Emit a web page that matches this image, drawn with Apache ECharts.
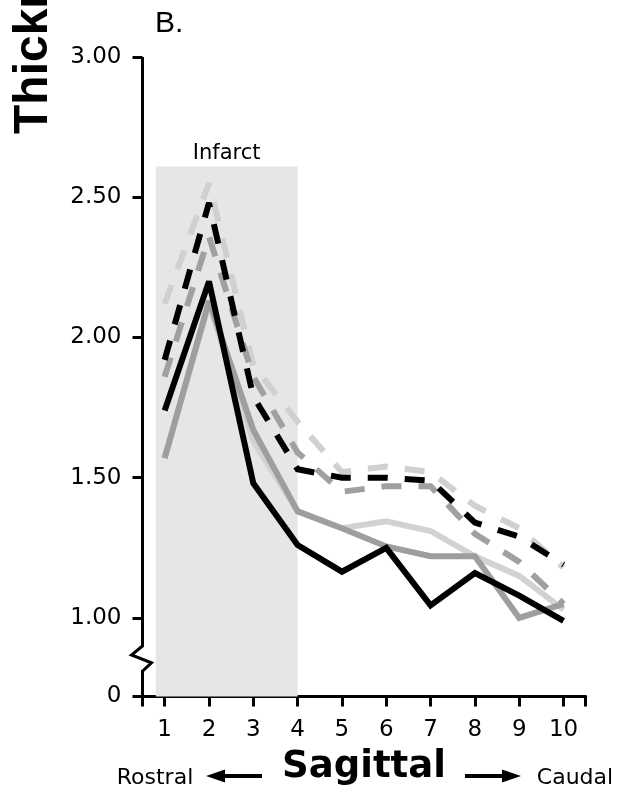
<!DOCTYPE html>
<html>
<head>
<meta charset="utf-8">
<script src="https://cdn.jsdelivr.net/npm/echarts@6/dist/echarts.min.js"></script>
<style>
html,body{margin:0;padding:0;background:#fff}
#c{width:621px;height:789px}
</style>
</head>
<body>
<div id="c"></div>
<script>
// ---- data ----
const sections = [1, 2, 3, 4, 5, 6, 7, 8, 9, 10];
const xTickValues = [0.5, 1, 2, 3, 4, 5, 6, 7, 8, 9, 10, 10.5];
const axisFloor = 0.72;              // position of the broken-axis "0"
const yTickValues = [0.72, 1.0, 1.5, 2.0, 2.5, 3.0];
const infarctRange = [0.8, 4.0];
const infarctTop = 2.61;

const solidBlack      = [1.74, 2.20, 1.48, 1.26, 1.165, 1.25, 1.045, 1.16, 1.08, 0.99];
const solidDarkGray   = [1.57, 2.13, 1.67, 1.38, 1.32, 1.255, 1.22, 1.22, 1.00, 1.05];
const solidLightGray  = [1.57, 2.12, 1.63, 1.38, 1.32, 1.345, 1.31, 1.22, 1.15, 1.03];
const dashedBlack     = [1.92, 2.48, 1.79, 1.53, 1.50, 1.50, 1.49, 1.34, 1.29, 1.19];
const dashedDarkGray  = [1.86, 2.36, 1.86, 1.59, 1.45, 1.47, 1.47, 1.30, 1.20, 1.05];
const dashedLightGray = [2.12, 2.55, 1.90, 1.70, 1.52, 1.54, 1.52, 1.40, 1.32, 1.18];

(function () {
const chart = echarts.init(document.getElementById('c'), null, {renderer: 'canvas'});

function pairs(vals) { return sections.map((s, i) => [s, vals[i]]); }

function lineSeries(name, vals, color, dashed, extra) {
  return Object.assign({
    name: name,
    type: 'line',
    data: pairs(vals),
    showSymbol: false,
    symbol: 'none',
    silent: true,
    clip: false,
    lineStyle: {
      color: color,
      width: 6,
      type: dashed ? [20, 17] : 'solid',
      cap: 'butt',
      join: 'miter',
      miterLimit: 2.5
    }
  }, extra || {});
}

const labelFont = 'DejaVu Sans';

const option = {
  animation: false,
  backgroundColor: '#fff',
  grid: {left: 142.5, right: 35.3, top: 57, bottom: 92.5},
  xAxis: {
    type: 'value',
    min: 0.5,
    max: 10.5,
    axisLine: {show: true, lineStyle: {color: '#000', width: 3}},
    axisTick: {show: true, customValues: xTickValues, length: 10, lineStyle: {color: '#000', width: 3}},
    axisLabel: {customValues: sections, fontFamily: labelFont, fontSize: 23, color: '#000', margin: 22},
    splitLine: {show: false}
  },
  yAxis: {
    type: 'value',
    min: axisFloor,
    max: 3.0,
    axisLine: {show: false},
    axisTick: {show: true, customValues: yTickValues, length: 10, lineStyle: {color: '#000', width: 3}},
    axisLabel: {
      customValues: yTickValues,
      fontFamily: labelFont, fontSize: 23, color: '#000', margin: 21,
      formatter: function (v) { return v < 0.9 ? '0' : v.toFixed(2); }
    },
    splitLine: {show: false}
  },
  series: [
    lineSeries('Dashed light gray', dashedLightGray, '#d0d0d0', true, {
      markArea: {
        silent: true,
        itemStyle: {color: '#e6e6e6'},
        label: {show: true, position: 'top', distance: 2, color: '#000', fontFamily: labelFont, fontSize: 21},
        data: [[
          {name: 'Infarct', xAxis: infarctRange[0], yAxis: axisFloor},
          {xAxis: infarctRange[1], yAxis: infarctTop}
        ]]
      }
    }),
    lineSeries('Dashed dark gray', dashedDarkGray, '#a0a0a0', true),
    lineSeries('Dashed black', dashedBlack, '#000000', true),
    lineSeries('Solid light gray', solidLightGray, '#d2d2d2', false),
    lineSeries('Solid dark gray', solidDarkGray, '#9e9e9e', false),
    lineSeries('Solid black', solidBlack, '#000000', false)
  ]
};

chart.setOption(option);

// broken y-axis line (with zig-zag) and free texts
const px = (x, y) => chart.convertToPixel({xAxisIndex: 0, yAxisIndex: 0}, [x, y]);
const pTop = px(0.5, 3.0);
const b1 = px(0.5, 0.90);
const b2 = px(0.5, 0.868);
const b3 = px(0.5, 0.84);
const b4 = px(0.5, 0.81);
const pBot = px(0.5, axisFloor);
const ax = pTop[0];

chart.setOption({
  graphic: [
    {
      type: 'polyline', silent: true, z: 10,
      shape: {points: [pTop, b1, [ax - 11, b2[1]], [ax + 9, b3[1]], b4, pBot]},
      style: {stroke: '#000', lineWidth: 3, fill: null, lineJoin: 'miter'}
    },
    {
      type: 'text', x: 34, y: 134, rotation: Math.PI / 2, silent: true,
      style: {text: 'Thickness (mm)', font: 'bold 48px "Liberation Sans"', fill: '#000',
              textAlign: 'left', textVerticalAlign: 'middle', align: 'left', verticalAlign: 'middle'}
    },
    {
      type: 'text', x: 155, y: 24, silent: true,
      style: {text: 'B.', font: '30px "Liberation Sans"', fill: '#000',
              textAlign: 'left', textVerticalAlign: 'middle', align: 'left', verticalAlign: 'middle'}
    },
    {
      type: 'text', x: 364, y: 767, silent: true,
      style: {text: 'Sagittal', font: 'bold 37px "DejaVu Sans"', fill: '#000',
              textAlign: 'center', textVerticalAlign: 'middle', align: 'center', verticalAlign: 'middle'}
    },
    {
      type: 'text', x: 155, y: 778, silent: true,
      style: {text: 'Rostral', font: '22px "DejaVu Sans"', fill: '#000',
              textAlign: 'center', textVerticalAlign: 'middle', align: 'center', verticalAlign: 'middle'}
    },
    {
      type: 'text', x: 575, y: 778, silent: true,
      style: {text: 'Caudal', font: '22px "DejaVu Sans"', fill: '#000',
              textAlign: 'center', textVerticalAlign: 'middle', align: 'center', verticalAlign: 'middle'}
    },
    {type: 'line', silent: true, shape: {x1: 222, y1: 776, x2: 262, y2: 776}, style: {stroke: '#000', lineWidth: 4}},
    {type: 'polygon', silent: true, shape: {points: [[206, 776], [225, 769.5], [225, 782.5]]}, style: {fill: '#000'}},
    {type: 'line', silent: true, shape: {x1: 465, y1: 776, x2: 505, y2: 776}, style: {stroke: '#000', lineWidth: 4}},
    {type: 'polygon', silent: true, shape: {points: [[521, 776], [502, 769.5], [502, 782.5]]}, style: {fill: '#000'}}
  ]
});
})();
</script>
</body>
</html>
